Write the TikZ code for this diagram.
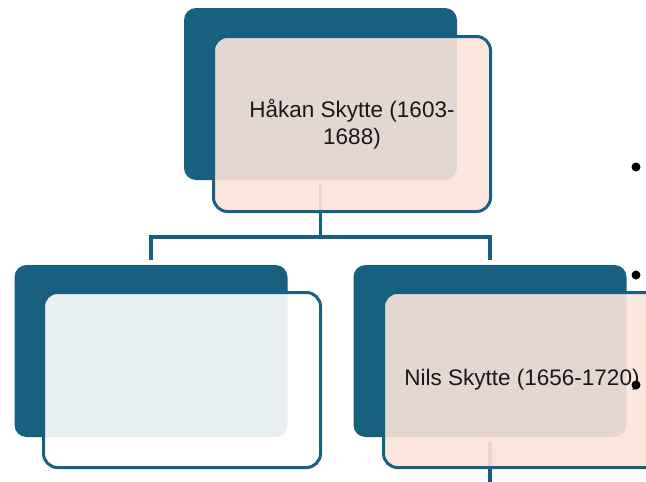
\documentclass[tikz,border=0pt]{standalone}
\usepackage{fontspec}
\setmainfont{Liberation Sans}
\usetikzlibrary{backgrounds}

\definecolor{skyteal}{RGB}{23,96,128}
\definecolor{skypink}{RGB}{251,227,217}

\tikzset{
  backbox/.style={rectangle, rounded corners=12pt, fill=skyteal,
    minimum width=273pt, minimum height=172pt},
  frontbox/.style={rectangle, rounded corners=14pt, draw=skyteal, line width=3pt,
    fill opacity=0.9, text opacity=1, text=black!90,
    minimum width=277pt, minimum height=175pt, align=center,
    font=\fontsize{22.5}{27}\selectfont},
  link/.style={draw=skyteal, line width=3.2pt}
}

\begin{document}
\begin{tikzpicture}[x=1pt, y=-1pt]
    \useasboundingbox (0,0) rectangle (646,482);
    \clip (0,0) rectangle (646,482);

    % Top member
    \node[backbox] (hakanBack) at (320.5,94) {};
    \node[frontbox, fill=skypink] (hakan) at (352,124) {Håkan Skytte (1603-\\1688)};

    % Children
    \node[backbox] (emptyBack) at (151,351) {};
    \node[frontbox, fill=white] (empty) at (182,380) {};

    \node[backbox] (nilsBack) at (490,351) {};
    \node[frontbox, fill=skypink] (nils) at (522,380) {Nils Skytte (1656-1720)};

    % Connectors
    \coordinate (bus) at (320,237);
    \coordinate (nilsChild) at (490,500);
    \begin{scope}[on background layer]
        \draw[link, shorten <=4pt, shorten >=5pt] (hakanBack.south) -- (hakanBack.south |- bus) -| (emptyBack.north);
        \draw[link, shorten <=4pt, shorten >=5pt] (hakanBack.south) -- (hakanBack.south |- bus) -| (nilsBack.north);
        \draw[link, shorten <=5pt] (nilsBack.south) -- (nilsChild);
    \end{scope}

    % Bullets
    \foreach \y in {167,275,385}
        \fill (636,\y) circle (4.5pt);
\end{tikzpicture}
\end{document}
